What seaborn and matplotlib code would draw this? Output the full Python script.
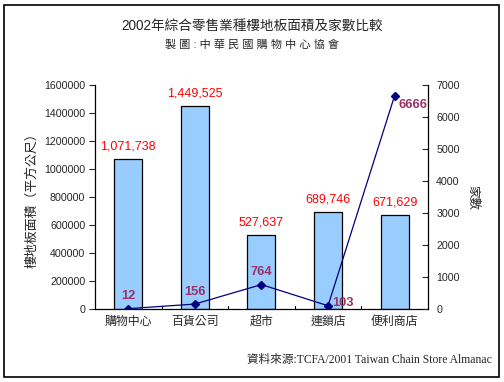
import matplotlib
matplotlib.use("Agg")

import matplotlib.pyplot as plt
import numpy as np
import pandas as pd
import seaborn as sns
from matplotlib.patches import Rectangle

CATEGORIES = ["購物中心", "百貨公司", "超市", "連鎖店", "便利商店"]
AREA = [1071738, 1449525, 527637, 689746, 671629]
STORES = [12, 156, 764, 103, 6666]
AREA_TICKS = [0, 200000, 400000, 600000, 800000, 1000000, 1200000, 1400000, 1600000]
STORE_TICKS = [0, 1000, 2000, 3000, 4000, 5000, 6000, 7000]

BAR_BLUE = "#99CCFF"
LINE_NAVY = "#000080"
LABEL_RED = "#FF0000"
LABEL_PLUM = "#993366"

sns.set_theme(style="white")
plt.rcParams["font.family"] = ["Liberation Sans", "Noto Sans CJK TC", "DejaVu Sans"]

df = pd.DataFrame({"cat": CATEGORIES, "area": AREA, "stores": STORES})

fig = plt.figure(figsize=(5.04, 3.82), dpi=100)
ax = fig.add_axes([0.1885, 0.191, 0.6605, 0.5865])

sns.barplot(data=df, x="cat", y="area", color=BAR_BLUE, width=0.42,
            edgecolor="black", linewidth=0.9, saturation=1, ax=ax)
ax.set_ylim(0, 1600000)
ax.set_xlim(-0.5, len(CATEGORIES) - 0.5)
ax.set_yticks(AREA_TICKS)
ax.set_yticklabels([str(t) for t in AREA_TICKS], fontsize=7.7)
ax.set_xlabel("")
ax.set_ylabel("樓地板面積（平方公尺）", fontsize=9.3, labelpad=4)
ax.tick_params(axis="y", direction="out", length=4, width=0.8, pad=3, left=True)
ax.tick_params(axis="x", length=0, labelsize=8.6, pad=5)
for s in ["top", "right"]:
    ax.spines[s].set_visible(False)
for s in ["left", "bottom"]:
    ax.spines[s].set_color("black")
    ax.spines[s].set_linewidth(0.9)

for i, v in enumerate(AREA):
    ax.annotate(f"{v:,}", (i, v), xytext=(0, 5), textcoords="offset points",
                ha="center", va="bottom", color=LABEL_RED, fontsize=9)

ax2 = ax.twinx()
x = np.arange(len(CATEGORIES))
ax2.plot(x, STORES, color=LINE_NAVY, lw=0.9, marker="D", markersize=4)
ax2.set_ylim(0, 7000)
ax2.set_yticks(STORE_TICKS)
ax2.set_yticklabels([str(t) for t in STORE_TICKS], fontsize=7.7)
ax2.tick_params(axis="y", direction="in", length=4, width=0.8, pad=6, right=True)
ax2.set_ylabel("家數", fontsize=9, rotation=-90, labelpad=9, va="center")
for s in ["top", "left", "bottom"]:
    ax2.spines[s].set_visible(False)
ax2.spines["right"].set_color("black")
ax2.spines["right"].set_linewidth(0.9)
ax2.grid(False)
ax.grid(False)

offsets = [(0, 5, "center", "bottom"), (0, 4, "center", "bottom"),
           (0, 5, "center", "bottom"), (3, 2, "left", "center"),
           (3, -7, "left", "center")]
for i, v in enumerate(STORES):
    dx, dy, ha, va = offsets[i]
    ax2.annotate(str(v), (i, v), xytext=(dx, dy), textcoords="offset points",
                 ha=ha, va=va, color=LABEL_PLUM, fontsize=9.3, fontweight="bold")

# small ticks between categories on the baseline
for b in np.arange(0.5, len(CATEGORIES) - 0.5, 1.0):
    ax.plot([b, b], [0, 25000], color="black", lw=0.8)

fig.text(0.5, 0.932, "2002年綜合零售業種樓地板面積及家數比較", ha="center", va="center", fontsize=9.8)
fig.text(0.5, 0.884, "製 圖 : 中 華 民 國 購 物 中 心 協 會", ha="center", va="center", fontsize=8)
fig.text(0.49, 0.058, "資料來源:TCFA/2001 Taiwan Chain Store Almanac", ha="left", va="center",
         fontsize=8.4, family=["Liberation Serif", "Noto Sans CJK TC"])

fig.patches.append(Rectangle((0.007, 0.012), 0.984, 0.975, transform=fig.transFigure,
                             fill=False, ec="black", lw=1.2))

fig.savefig("out.png", dpi=100)
